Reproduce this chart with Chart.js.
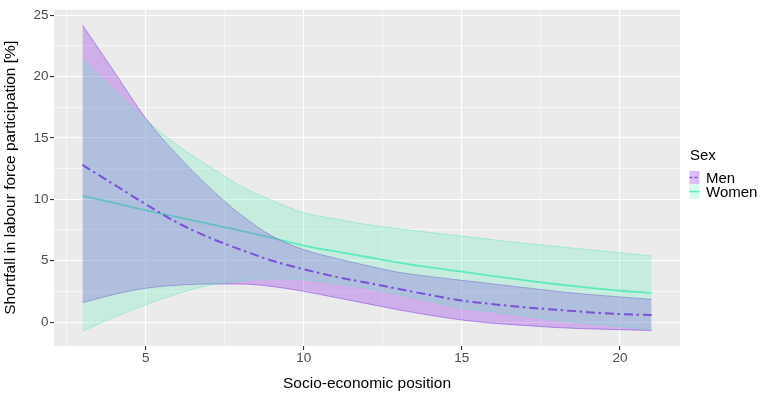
<!DOCTYPE html>
<html>
<head>
<meta charset="utf-8">
<script src="https://cdn.jsdelivr.net/npm/chart.js@4/dist/chart.umd.min.js"></script>
<style>
  html, body { margin: 0; padding: 0; background: #ffffff; }
  #wrap { width: 768px; height: 399px; }
</style>
</head>
<body>
<div id="wrap"><canvas id="c" width="768" height="399"></canvas></div>
<script>
// ---- data ----
const xValues    = [3, 4, 5, 6, 7, 8, 9, 10, 11, 12, 13, 14, 15, 16, 17, 18, 19, 20, 21];
const menMean    = [12.8, 11.2, 9.6, 8.1, 6.9, 5.9, 5.0, 4.3, 3.7, 3.2, 2.7, 2.2, 1.75, 1.45, 1.2, 1.0, 0.8, 0.65, 0.57];
const menUpper   = [24.2, 20.4, 16.6, 13.6, 11.0, 8.76, 7.0, 5.9, 5.2, 4.6, 4.05, 3.7, 3.4, 3.1, 2.8, 2.5, 2.25, 2.05, 1.85];
const menLower   = [1.58, 2.25, 2.75, 3.0, 3.1, 3.1, 2.9, 2.5, 2.0, 1.5, 1.0, 0.55, 0.17, -0.1, -0.28, -0.45, -0.55, -0.62, -0.68];
const womenMean  = [10.3, 9.7, 9.1, 8.55, 8.0, 7.45, 6.85, 6.23, 5.75, 5.3, 4.85, 4.45, 4.1, 3.75, 3.4, 3.08, 2.8, 2.55, 2.38];
const womenUpper = [21.4, 18.9, 16.5, 14.4, 12.7, 11.1, 9.9, 8.9, 8.4, 7.95, 7.6, 7.3, 7.0, 6.7, 6.4, 6.15, 5.9, 5.65, 5.38];
const womenLower = [-0.75, 0.4, 1.4, 2.3, 3.0, 3.35, 3.55, 3.45, 3.15, 2.75, 2.25, 1.7, 1.15, 0.82, 0.5, 0.15, -0.1, -0.35, -0.62];

const xTicks = [2.5, 5, 7.5, 10, 12.5, 15, 17.5, 20];
const xTickLabels = ['', '5', '', '10', '', '15', '', '20'];
const yTicks = [0, 2.5, 5, 7.5, 10, 12.5, 15, 17.5, 20, 22.5, 25];
const yTickLabels = ['0', '', '5', '', '10', '', '15', '', '20', '', '25'];

const xTitle = 'Socio-economic position';
const yTitle = 'Shortfall in labour force participation [%]';
const legendTitle = 'Sex';
const seriesNames = ['Men', 'Women'];

// ---- styles ----
const MEN_LINE = 'rgb(122,80,216)';
const MEN_FILL = 'rgba(138,38,232,0.30)';
const MEN_EDGE = 'rgba(125,60,215,0.65)';
const WOMEN_LINE = 'rgb(95,234,188)';
const WOMEN_FILL = 'rgba(87,239,183,0.25)';
const WOMEN_EDGE = 'rgba(87,230,180,0.55)';
const MEN_DASH = [9, 3.5, 2.5, 4];
const FONT = '"Liberation Sans", Arial, sans-serif';

const pts = arr => arr.map((v, i) => ({ x: xValues[i], y: v }));

const base = { pointRadius: 0, pointHoverRadius: 0, cubicInterpolationMode: 'monotone', borderCapStyle: 'butt' };

const datasets = [
  Object.assign({}, base, { label: 'Men', data: pts(menMean), borderColor: MEN_LINE, borderWidth: 2, borderDash: MEN_DASH, fill: false }),
  Object.assign({}, base, { label: 'Women upper', data: pts(womenUpper), borderColor: WOMEN_EDGE, borderWidth: 0.8, backgroundColor: WOMEN_FILL, fill: '+1' }),
  Object.assign({}, base, { label: 'Women lower', data: pts(womenLower), borderColor: WOMEN_EDGE, borderWidth: 0.8, fill: false }),
  Object.assign({}, base, { label: 'Men upper', data: pts(menUpper), borderColor: MEN_EDGE, borderWidth: 0.8, backgroundColor: MEN_FILL, fill: '+1' }),
  Object.assign({}, base, { label: 'Men lower', data: pts(menLower), borderColor: MEN_EDGE, borderWidth: 0.8, fill: false }),
  Object.assign({}, base, { label: 'Women', data: pts(womenMean), borderColor: WOMEN_LINE, borderWidth: 1.8, fill: false })
];

const panelBg = {
  id: 'panelBg',
  beforeDraw(chart) {
    const { ctx, chartArea: a } = chart;
    ctx.save();
    ctx.fillStyle = '#EBEBEB';
    ctx.fillRect(a.left, a.top, a.right - a.left, a.bottom - a.top);
    ctx.restore();
  }
};

const customLegend = {
  id: 'customLegend',
  afterDraw(chart) {
    const ctx = chart.ctx;
    ctx.save();
    ctx.textBaseline = 'middle';
    ctx.textAlign = 'left';
    ctx.fillStyle = '#000000';
    ctx.font = '15px ' + FONT;
    ctx.fillText(legendTitle, 690, 156);
    const keys = [
      { fill: MEN_FILL, line: MEN_LINE, dash: [3, 2], y0: 171, h: 13, ty: 179 },
      { fill: WOMEN_FILL, line: WOMEN_LINE, dash: [], y0: 184, h: 15, ty: 193 }
    ];
    keys.forEach((k, i) => {
      ctx.fillStyle = k.fill;
      ctx.fillRect(689.5, k.y0, 10, k.h);
      ctx.strokeStyle = k.line;
      ctx.lineWidth = 1.6;
      ctx.setLineDash(k.dash);
      ctx.beginPath();
      ctx.moveTo(689.5, k.y0 + k.h / 2);
      ctx.lineTo(699.5, k.y0 + k.h / 2);
      ctx.stroke();
      ctx.setLineDash([]);
      ctx.fillStyle = '#000000';
      ctx.fillText(seriesNames[i], 706, k.ty);
    });
    ctx.restore();
  }
};

const gridColor = () => '#FFFFFF';
const gridWidth = labels => ctx => (ctx.tick && labels[ctx.index] === '' ? 0.55 : 1.1);
const tickCol = labels => ctx => (ctx.tick && labels[ctx.index] === '' ? 'rgba(0,0,0,0)' : '#333333');

new Chart(document.getElementById('c'), {
  type: 'line',
  data: { datasets },
  plugins: [panelBg, customLegend],
  options: {
    responsive: false,
    animation: false,
    devicePixelRatio: 1,
    layout: { padding: { left: 0, right: 88, top: 2, bottom: 0 } },
    plugins: { legend: { display: false }, tooltip: { enabled: false } },
    scales: {
      x: {
        type: 'linear',
        min: 2.1, max: 21.9,
        afterFit(s) { s.height = 53; },
        afterBuildTicks(s) { s.ticks = xTicks.map(v => ({ value: v })); },
        ticks: {
          autoSkip: false, maxRotation: 0, padding: 0,
          color: '#4D4D4D',
          font: { family: FONT, size: 13.5 },
          callback: (v, i) => xTickLabels[i]
        },
        grid: { color: gridColor, lineWidth: gridWidth(xTickLabels), tickColor: tickCol(xTickLabels), tickLength: 4, drawTicks: true },
        border: { display: false },
        title: {
          display: true, text: xTitle, color: '#000000',
          font: { family: FONT, size: 15.5, lineHeight: 1 },
          padding: { top: 0, bottom: 8 }
        }
      },
      y: {
        type: 'linear',
        min: -1.95, max: 25.45,
        afterFit(s) { s.width = 54; },
        afterBuildTicks(s) { s.ticks = yTicks.map(v => ({ value: v })); },
        ticks: {
          autoSkip: false, padding: 1.5,
          color: '#4D4D4D',
          font: { family: FONT, size: 13.5 },
          callback: (v, i) => yTickLabels[i]
        },
        grid: { color: gridColor, lineWidth: gridWidth(yTickLabels), tickColor: tickCol(yTickLabels), tickLength: 4, drawTicks: true },
        border: { display: false },
        title: {
          display: true, text: yTitle, color: '#000000',
          font: { family: FONT, size: 15.5, lineHeight: 1 },
          padding: { top: 3, bottom: 0 }
        }
      }
    }
  }
});
</script>
</body>
</html>
